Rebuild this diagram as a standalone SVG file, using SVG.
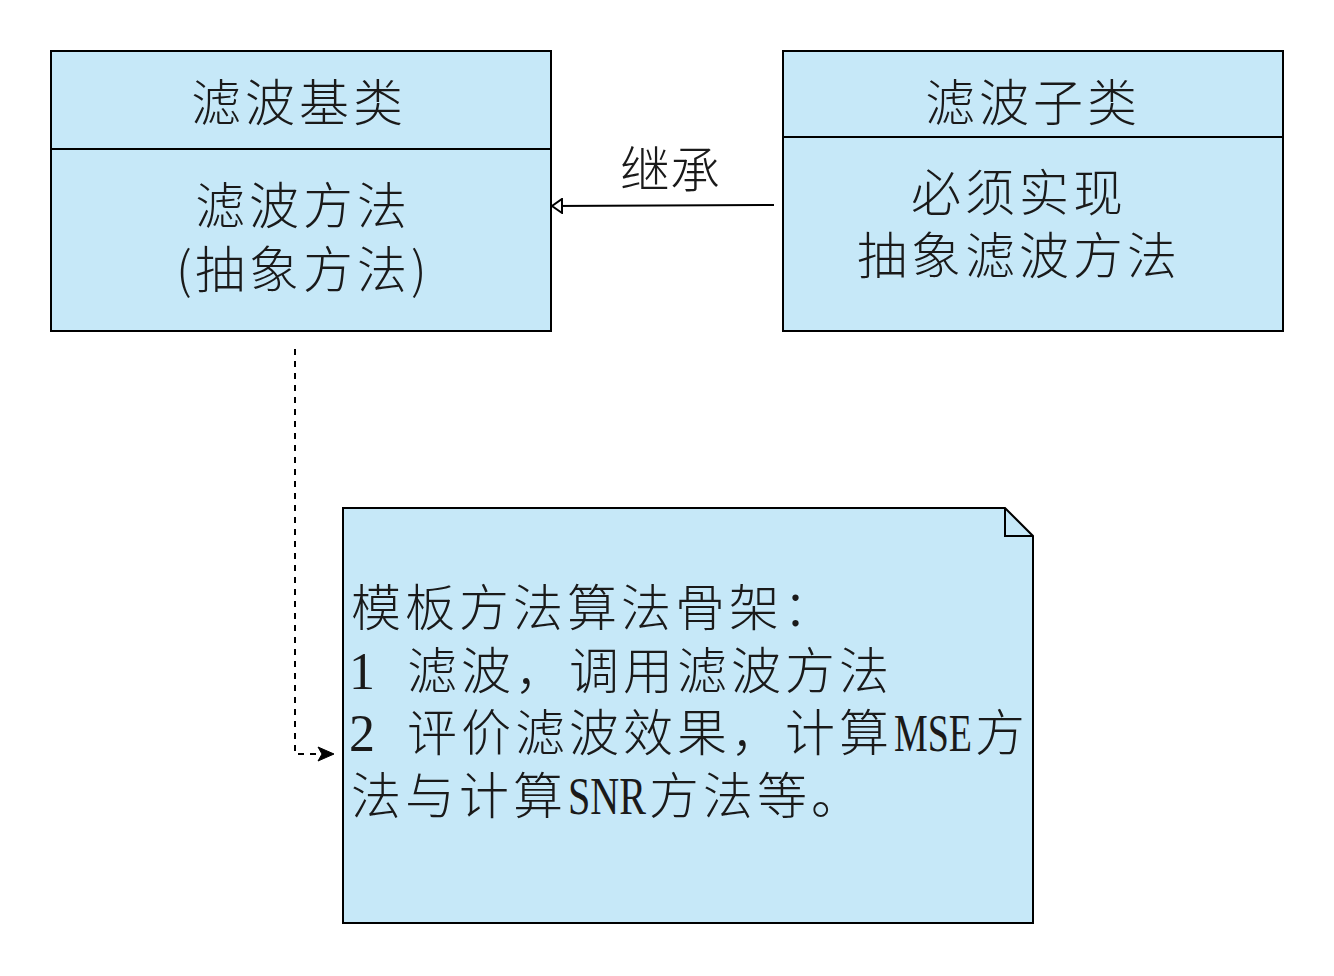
<svg xmlns="http://www.w3.org/2000/svg" width="1334" height="976" viewBox="0 0 1334 976">
<defs>
<style>
.box{fill:#c6e8f8;stroke:#000;stroke-width:2}
.t{font-family:"Noto Sans CJK SC","Noto Sans CJK JP",sans-serif;font-size:50px;font-weight:300;fill:#1a1a1a}
.l{font-family:"Liberation Serif",serif;font-size:52px;font-weight:400}
.edge{fill:none;stroke:#000;stroke-width:2}
</style>
<marker id="tri" markerWidth="14" markerHeight="16" refX="11" refY="8" orient="auto" markerUnits="userSpaceOnUse">
<path d="M1,1 L11,8 L1,15 Z" fill="#fff" stroke="#000" stroke-width="2"/>
</marker>
<marker id="cls" markerWidth="20" markerHeight="16" refX="17" refY="8" orient="auto" markerUnits="userSpaceOnUse">
<path d="M1,1 L17,8 L1,15 L5,8 Z" fill="#000" stroke="#000" stroke-width="1"/>
</marker>
</defs>
<rect width="1334" height="976" fill="#fff"/>

<g id="connectors">
<path class="edge" d="M774,205 L552,206" marker-end="url(#tri)"/>
<path class="edge" d="M295,349 V754 H334" stroke-dasharray="6 6" marker-end="url(#cls)"/>
<text class="t" x="620" y="188">继承</text>
</g>

<g id="base">
<rect class="box" x="51" y="51" width="500" height="280"/>
<line x1="51" y1="149" x2="551" y2="149" stroke="#000" stroke-width="2"/>
<text class="t" x="191 245 299 353" y="121">滤波基类</text>
<text class="t" x="195 249 303 357" y="224">滤波方法</text>
<text class="t" x="176 195 249 303 357 411" y="288">(抽象方法)</text>
</g>

<g id="sub">
<rect class="box" x="783" y="51" width="500" height="280"/>
<line x1="783" y1="137" x2="1283" y2="137" stroke="#000" stroke-width="2"/>
<text class="t" x="925 979 1033 1087" y="121">滤波子类</text>
<text class="t" x="911 965 1019 1073" y="211">必须实现</text>
<text class="t" x="857 911 965 1019 1073 1127" y="274">抽象滤波方法</text>
</g>

<g id="note">
<path class="box" d="M343,508 H1005 L1033,536 V923 H343 Z"/>
<path class="edge" d="M1005,508 V536 H1033"/>
<text class="t"><tspan x="351 405 459 513 567 621 675 729 783" y="626">模板方法算法骨架：</tspan><tspan class="l" x="349" y="689">1</tspan><tspan x="407 461 515 569 623 677 731 785 839" y="689">滤波，调用滤波方法</tspan><tspan class="l" x="349" y="751">2</tspan><tspan x="407 461 515 569 623 677 731 785 839" y="751">评价滤波效果，计算</tspan><tspan class="l" x="894" y="751" textLength="78" lengthAdjust="spacingAndGlyphs">MSE</tspan><tspan x="975" y="751">方</tspan><tspan x="351 405 459 513" y="814">法与计算</tspan><tspan class="l" x="568" y="814" textLength="78" lengthAdjust="spacingAndGlyphs">SNR</tspan><tspan x="649 703 757 811" y="814">方法等。</tspan></text>
</g>
</svg>
